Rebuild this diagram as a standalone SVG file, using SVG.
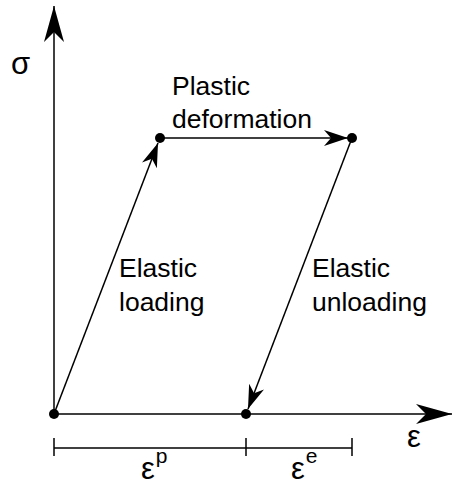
<svg xmlns="http://www.w3.org/2000/svg" width="454" height="482" viewBox="0 0 454 482">
<style>
.l{stroke:#000;stroke-width:1.5;fill:none}
.t{font-family:"Liberation Sans",Arial,sans-serif;font-size:26.5px;fill:#000}
.g{font-family:"Liberation Sans",Arial,sans-serif;font-size:31px;fill:#000}
.s{font-size:21px}
</style>
<defs>
<marker id="big" viewBox="0 0 36 20" refX="36" refY="10" markerWidth="36" markerHeight="20" markerUnits="userSpaceOnUse" orient="auto"><path d="M0,0 L36,10 L0,20 L10,10 Z" fill="#000"/></marker>
<marker id="sm" viewBox="0 0 24 16" refX="24" refY="8" markerWidth="24" markerHeight="16" markerUnits="userSpaceOnUse" orient="auto"><path d="M0,0 L24,8 L0,16 L7,8 Z" fill="#000"/></marker>
</defs>
<g id="connectors">
<line class="l" x1="54" y1="414" x2="54" y2="6" marker-end="url(#big)"/>
<line class="l" x1="54" y1="414" x2="452" y2="414" marker-end="url(#big)"/>
<line class="l" x1="54" y1="414" x2="158" y2="143" marker-end="url(#sm)"/>
<line class="l" x1="160" y1="138" x2="348" y2="138" marker-end="url(#sm)"/>
<line class="l" x1="352" y1="138" x2="248" y2="409" marker-end="url(#sm)"/>
<line class="l" x1="54" y1="448" x2="352" y2="448"/>
<line class="l" x1="54" y1="438" x2="54" y2="456"/>
<line class="l" x1="246" y1="438" x2="246" y2="456"/>
<line class="l" x1="352" y1="438" x2="352" y2="456"/>
</g>
<g id="nodes">
<circle cx="54" cy="414" r="5"/>
<circle cx="160" cy="138" r="5"/>
<circle cx="352" cy="138" r="5"/>
<circle cx="246" cy="414" r="5"/>
</g>
<g id="labels">
<text class="g" x="11" y="74">σ</text>
<text class="t" x="172" y="95">Plastic</text>
<text class="t" x="172" y="128">deformation</text>
<text class="t" x="119" y="277">Elastic</text>
<text class="t" x="119" y="311">loading</text>
<text class="t" x="312" y="277">Elastic</text>
<text class="t" x="312" y="311">unloading</text>
<text class="g" x="407" y="447">ε</text>
<text class="g" x="141" y="479">ε<tspan class="s" dx="1" dy="-16">p</tspan></text>
<text class="g" x="291" y="479">ε<tspan class="s" dx="1" dy="-16">e</tspan></text>
</g>
</svg>
